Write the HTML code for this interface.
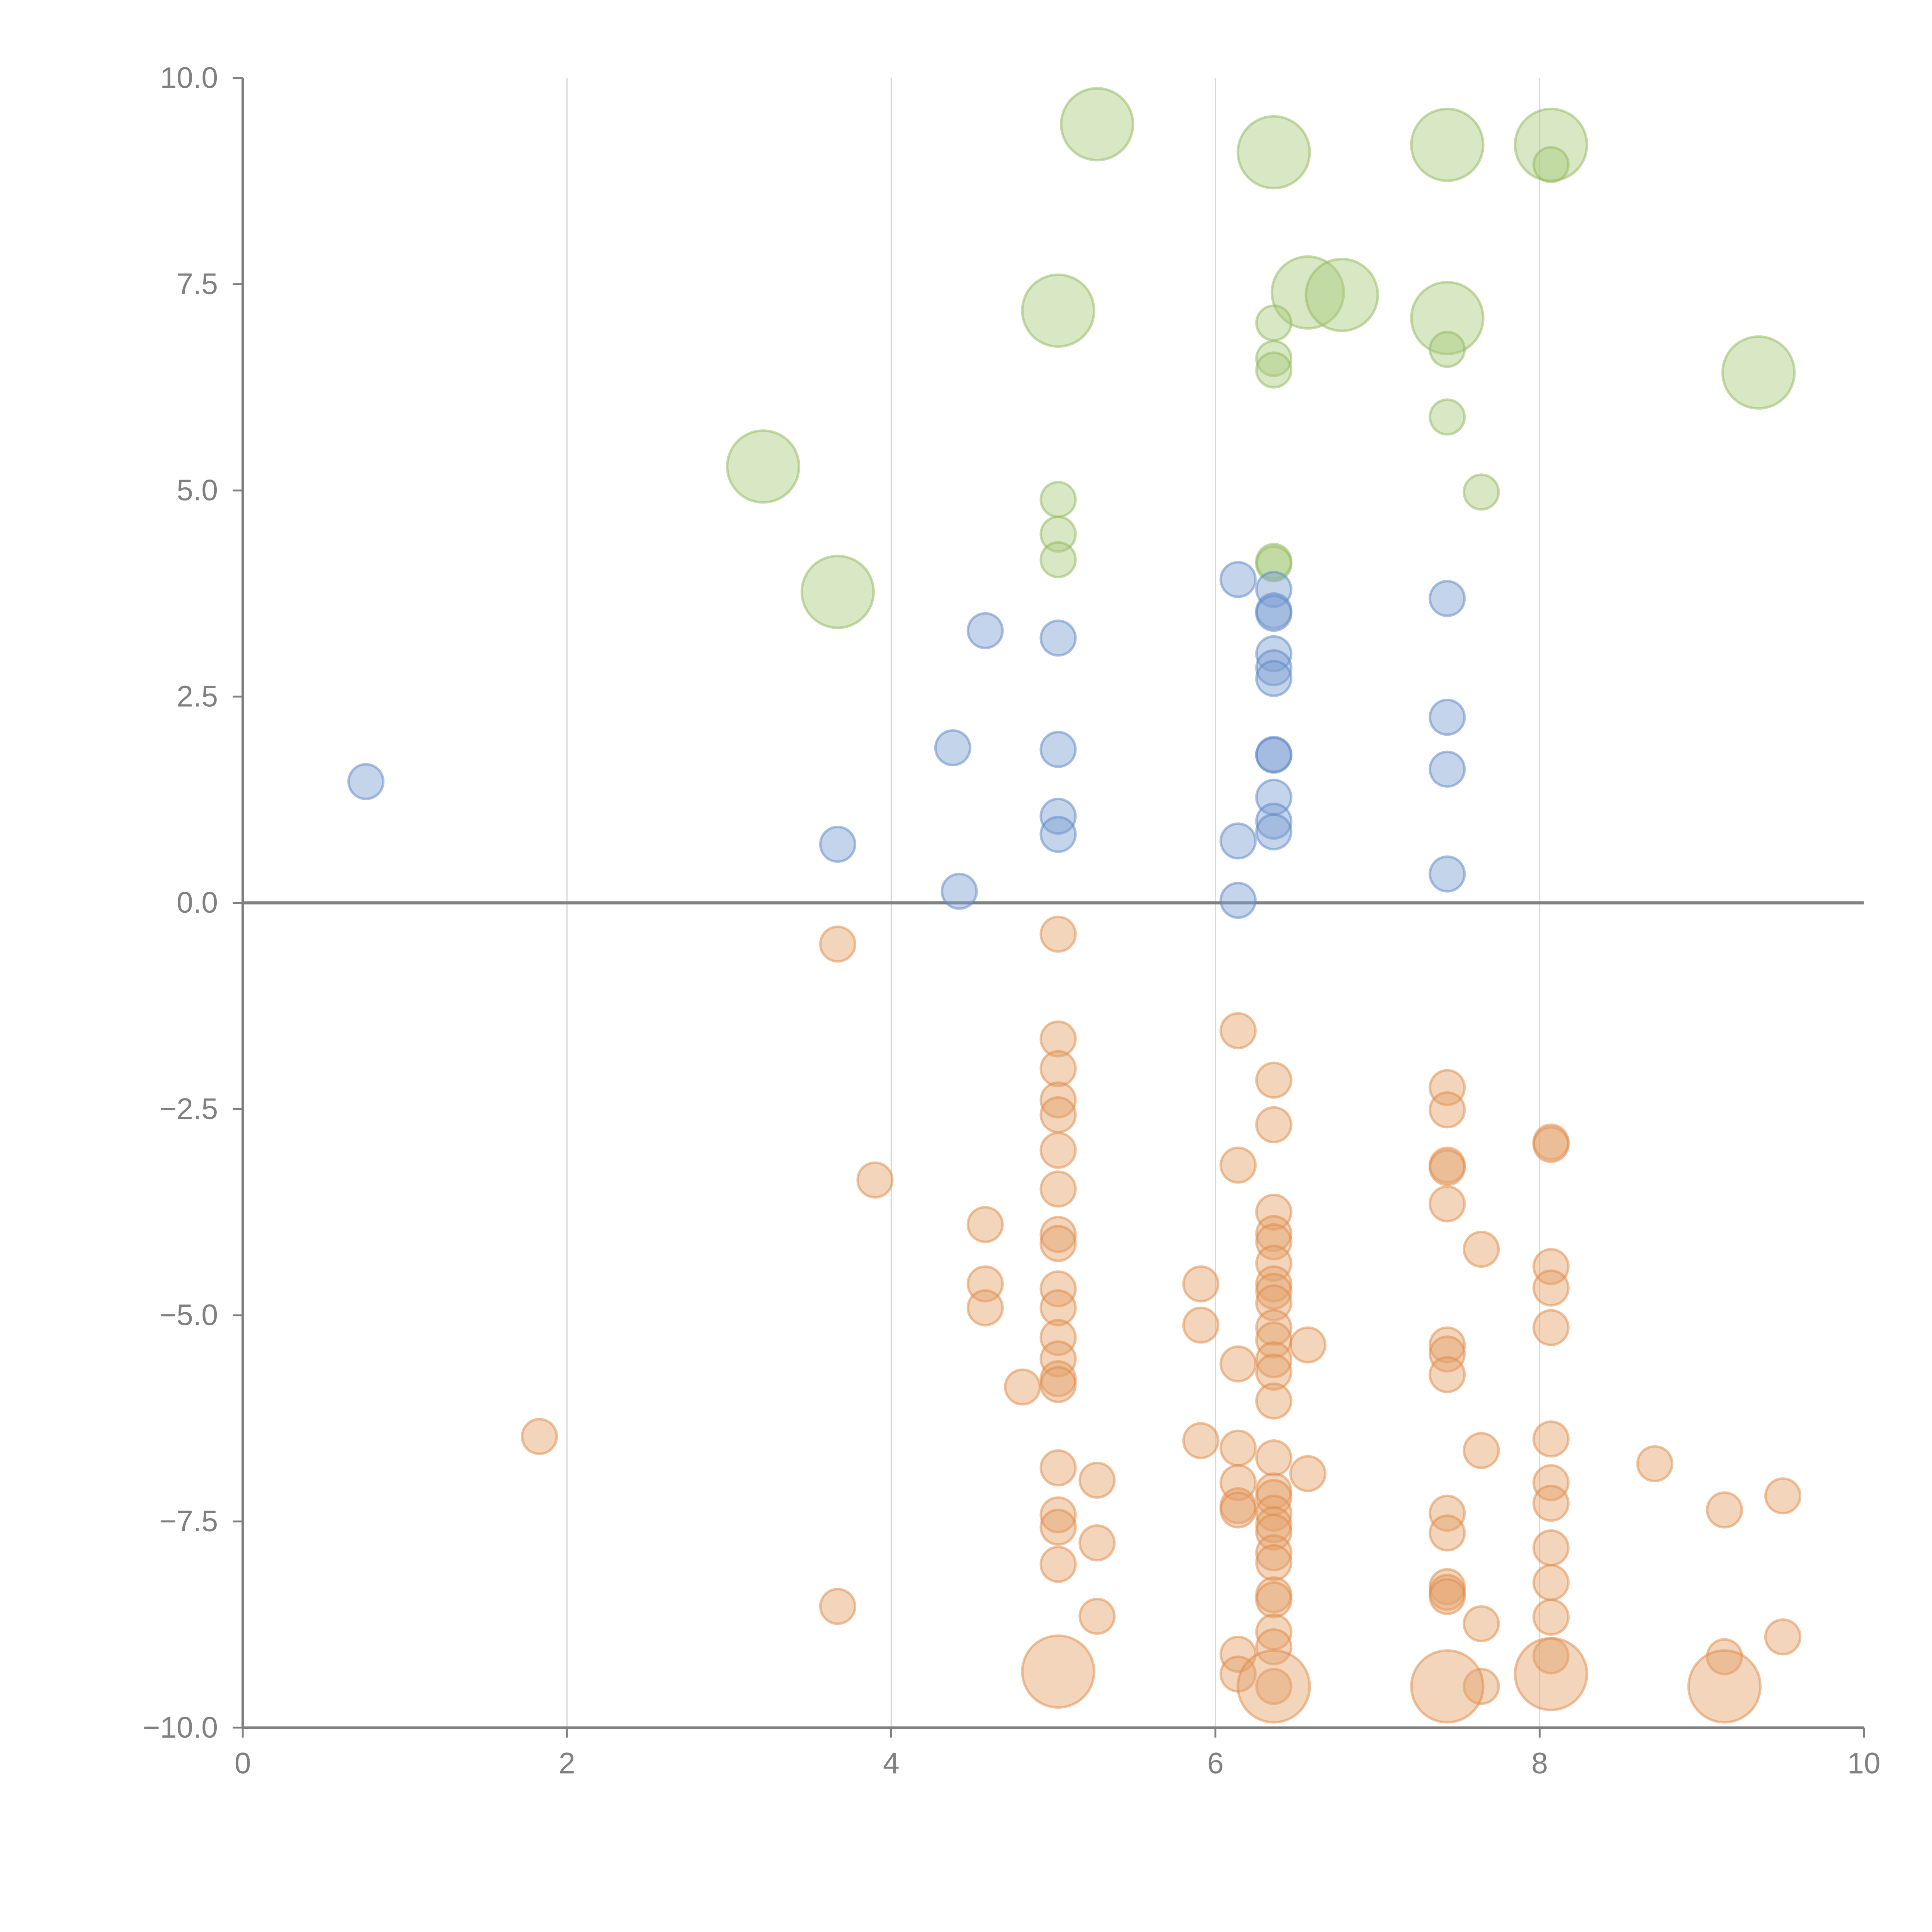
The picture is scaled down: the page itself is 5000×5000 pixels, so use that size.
<!DOCTYPE html>
<html><head><meta charset="utf-8"><style>html,body{margin:0;padding:0;background:#fff}svg{display:block}</style></head>
<body>
<svg id="chart" width="5000" height="5000" viewBox="0 0 1560 1560" xmlns="http://www.w3.org/2000/svg" font-family="Liberation Sans, sans-serif">
<g id="grid"></g>
<g id="marks"></g>
<g id="axes"></g>
</svg>
<script>
const xTicks=[0,2,4,6,8,10];
const yTicks=[-10,-7.5,-5,-2.5,0,2.5,5,7.5,10];
const yTickLabels=["\u221210.0","\u22127.5","\u22125.0","\u22122.5","0.0","2.5","5.0","7.5","10.0"];
const greenBigX=[5.27,6.36,7.43,8.07,5.03,6.57,6.78,7.43,9.35,3.21,3.67];
const greenBigY=[9.44,9.1,9.19,9.19,7.18,7.4,7.37,7.09,6.43,5.29,3.77];
const greenX=[8.07,6.36,6.36,6.36,7.43,7.43,7.64,5.03,5.03,5.03,6.36,6.36];
const greenY=[8.95,7.03,6.6,6.46,6.71,5.89,4.98,4.89,4.47,4.16,4.14,4.11];
const blueX=[0.76,3.67,4.38,4.42,4.58,5.03,5.03,5.03,5.03,6.14,6.14,6.14,6.36,6.36,6.36,6.36,6.36,6.36,6.36,6.36,6.36,6.36,6.36,7.43,7.43,7.43,7.43];
const blueY=[1.47,0.71,1.88,0.14,3.3,3.21,1.86,1.05,0.83,3.92,0.75,0.03,3.8,3.54,3.51,3.02,2.85,2.72,1.8,1.79,1.28,0.99,0.86,3.69,2.25,1.62,0.35];
const orangeX=[3.67,5.03,1.83,3.9,3.67,4.58,4.58,4.58,4.81,
5.03,5.03,5.03,5.03,5.03,5.03,5.03,5.03,5.03,5.03,5.03,5.03,5.03,5.03,5.03,5.03,5.03,5.03,
5.27,5.27,5.27,5.91,5.91,5.91,
6.14,6.14,6.14,6.14,6.14,6.14,6.14,6.14,6.14,
6.36,6.36,6.36,6.36,6.36,6.36,6.36,6.36,6.36,6.36,6.36,6.36,6.36,6.36,6.36,6.36,6.36,6.36,6.36,6.36,6.36,6.36,6.36,6.36,6.36,6.36,6.36,
6.57,6.57,
7.43,7.43,7.43,7.43,7.43,7.43,7.43,7.43,7.43,7.43,7.43,7.43,7.43,
7.64,7.64,7.64,7.64,
8.07,8.07,8.07,8.07,8.07,8.07,8.07,8.07,8.07,8.07,8.07,8.07,
8.71,9.14,9.14,9.5,9.5];
const orangeY=[-0.5,-0.38,-6.47,-3.36,-8.53,-3.9,-4.62,-4.91,-5.87,
-1.65,-2.01,-2.39,-2.57,-3.0,-3.47,-4.02,-4.13,-4.68,-4.91,-5.27,-5.53,-5.77,-5.84,-6.85,-7.42,-7.57,-8.02,
-7.0,-7.76,-8.65,-4.62,-5.12,-6.52,
-1.55,-3.18,-5.59,-6.61,-7.03,-7.31,-7.36,-9.11,-9.35,
-2.15,-2.69,-3.75,-4.01,-4.11,-4.37,-4.62,-4.71,-4.85,-5.15,-5.3,-5.54,-5.69,-6.04,-6.73,-7.13,-7.21,-7.4,-7.54,-7.63,-7.88,-8.0,-8.39,-8.45,-8.84,-9.02,-9.5,
-5.36,-6.92,
-2.24,-2.51,-3.18,-3.21,-3.65,-5.36,-5.47,-5.72,-7.4,-7.64,-8.29,-8.36,-8.41,
-4.2,-6.64,-8.74,-9.5,
-2.9,-2.93,-4.41,-4.67,-5.15,-6.5,-7.03,-7.28,-7.82,-8.24,-8.66,-9.13,
-6.8,-7.36,-9.14,-7.19,-8.9];
const orangeBigX=[5.03,6.36,7.43,8.07,9.14];
const orangeBigY=[-9.32,-9.5,-9.5,-9.35,-9.5];

const X0=196,X1=1505,Y0=1395,Y1=63;
function sx(v){return X0+(v-0)/(10-0)*(X1-X0);}
function sy(v){return Y0-(v+10)/20*(Y0-Y1);}
const NS="http://www.w3.org/2000/svg";
function mk(tag,parent,attrs){const e=document.createElementNS(NS,tag);for(const k in attrs)e.setAttribute(k,attrs[k]);parent.appendChild(e);return e;}
const grid=document.getElementById('grid'),marks=document.getElementById('marks'),axes=document.getElementById('axes');
xTicks.forEach(t=>{if(t>0&&t<10){const l=mk('line',grid,{x1:sx(t),x2:sx(t),y1:Y1,y2:Y0,stroke:'#d9d9d9','stroke-width':1});

}});
const zl=mk('line',grid,{x1:X0,x2:X1,y1:sy(0),y2:sy(0),stroke:'#808080','stroke-width':2.5});


function series(xs,ys,r,fill,stroke,name){
  for(let i=0;i<xs.length;i++){
    const c=mk('circle',marks,{cx:sx(xs[i]),cy:sy(ys[i]),r:r,fill:fill,'fill-opacity':0.45,stroke:stroke,'stroke-opacity':0.5,'stroke-width':2});
    
    
  }
}
series(greenBigX,greenBigY,29,'#a8c97c','#8fb85a','green-bubble-large');
series(greenX,greenY,14,'#a8c97c','#8fb85a','green-bubble');
series(blueX,blueY,14,'#7d9fd3','#5b86c6','blue-bubble');
series(orangeX,orangeY,14,'#e5a26a','#e08a45','orange-bubble');
series(orangeBigX,orangeBigY,29,'#e5a26a','#e08a45','orange-bubble-large');
const ya=mk('line',axes,{x1:X0,x2:X0,y1:Y1,y2:Y0,stroke:'#808080','stroke-width':2});


const xa=mk('line',axes,{x1:X0,x2:X1,y1:Y0,y2:Y0,stroke:'#808080','stroke-width':2});


xTicks.forEach(t=>{
  const tk=mk('line',axes,{x1:sx(t),x2:sx(t),y1:Y0,y2:Y0+8,stroke:'#808080','stroke-width':1.5});
  
  
  const tx=mk('text',axes,{x:sx(t),y:Y0+37,'text-anchor':'middle','font-size':24,fill:'#808080'});
  tx.textContent=String(t);
  
  
});
yTicks.forEach((t,i)=>{
  const tk=mk('line',axes,{x1:X0-8,x2:X0,y1:sy(t),y2:sy(t),stroke:'#808080','stroke-width':1.5});
  
  
  const tx=mk('text',axes,{x:X0-20,y:sy(t)+8,'text-anchor':'end','font-size':24,fill:'#808080'});
  tx.textContent=yTickLabels[i];
  
  
});
</script>
</body></html>
